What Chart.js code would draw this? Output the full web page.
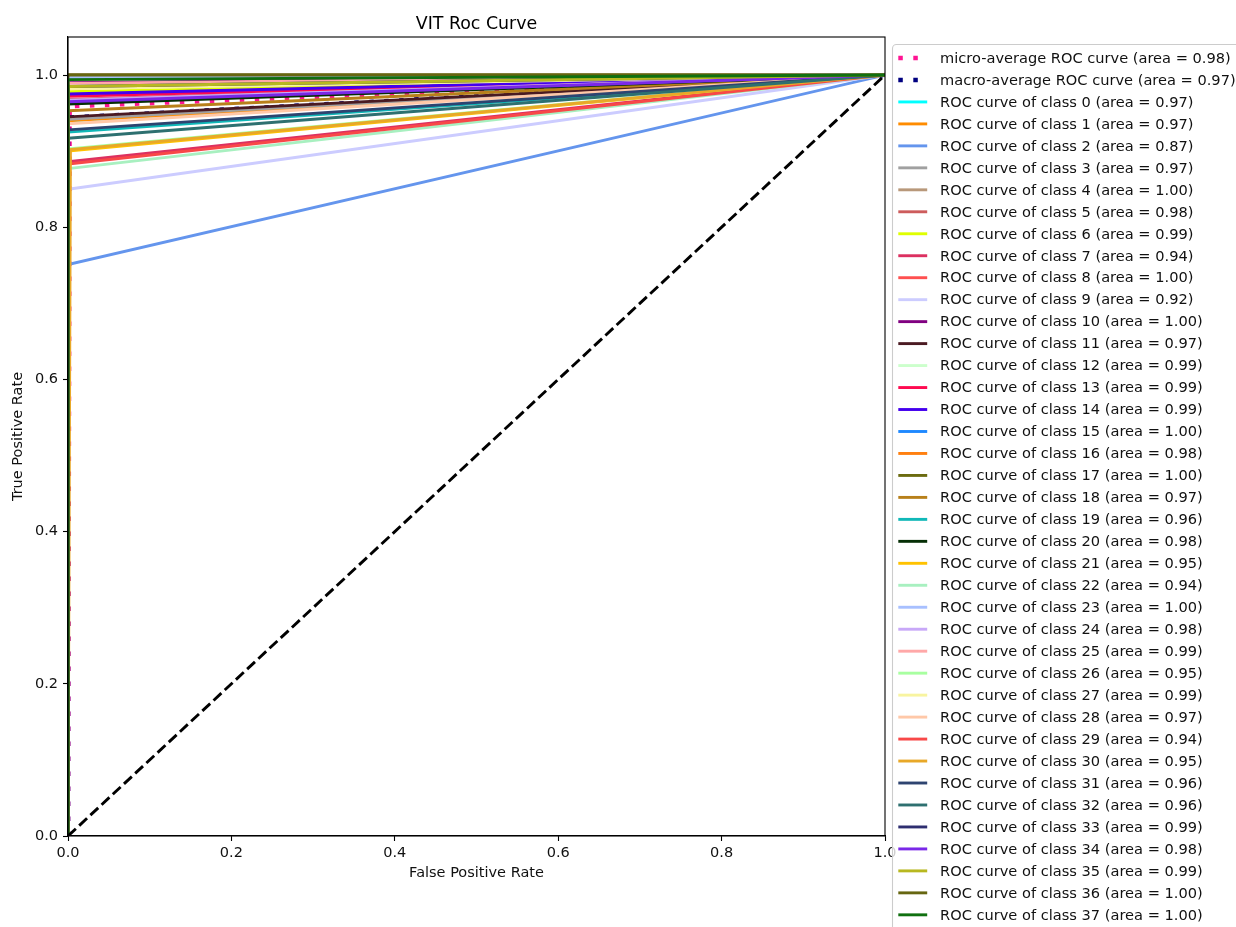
<!DOCTYPE html>
<html><head><meta charset="utf-8">
<script src="https://cdn.jsdelivr.net/npm/chart.js@4/dist/chart.umd.min.js"></script>
<style>html,body{margin:0;padding:0;background:#fff;}canvas{display:block}</style>
</head><body>
<canvas id="c" width="1236" height="927"></canvas>
<script>
// ---------- data ----------
const chartTitle = 'VIT Roc Curve';
const xAxisLabel = 'False Positive Rate';
const yAxisLabel = 'True Positive Rate';
const tickValues = [0.0, 0.2, 0.4, 0.6, 0.8, 1.0];

const classIds = [0,1,2,3,4,5,6,7,8,9,10,11,12,13,14,15,16,17,18,19,20,21,22,23,24,25,26,27,28,29,30,31,32,33,34,35,36,37];
const classAuc = [0.97,0.97,0.87,0.97,1.00,0.98,0.99,0.94,1.00,0.92,1.00,0.97,0.99,0.99,0.99,1.00,0.98,1.00,0.97,0.96,0.98,0.95,0.94,1.00,0.98,0.99,0.95,0.99,0.97,0.94,0.95,0.96,0.96,0.99,0.98,0.99,1.00,1.00];
// knee point of each ROC curve (fpr, tpr)
const classKneeFpr = [0,0,0,0,0,0,0,0,0,0,0,0,0,0,0,0,0,0,0,0,0,0,0,0,0,0,0,0,0,0,0.003,0,0,0,0,0,0,0];
const classKneeTpr = [0.940,0.940,0.751,0.942,1.000,0.968,0.978,0.886,0.995,0.850,0.990,0.945,0.985,0.972,0.975,0.997,0.966,1.000,0.953,0.925,0.962,0.900,0.877,0.997,0.967,0.989,0.903,0.982,0.936,0.883,0.902,0.928,0.917,0.985,0.965,0.985,1.000,0.994];
const classColors = ['#00FFFF','#FF8C00','#6495ED','#A0A0A0','#B8987A','#CD5C5C','#DFFF00','#DC3060','#FF5050','#CCCCFF',
  '#800080','#4A1A22','#CCFFCC','#FF0A50','#4400EE','#1E88FF','#FF8010','#6B6B10','#B8801A','#10B8B8',
  '#052E05','#FFC200','#A8F0C0','#A8C0FF','#C8A8F8','#FFA8A8','#A8FFA0','#F8F4A0','#FFC8A8','#F84848',
  '#E8A828','#2E4470','#2E7070','#2E2E70','#7A28E8','#B8B820','#666610','#107010'];

const microAuc = 0.98, microKneeFpr = 0.002, microKneeTpr = 0.959;
const macroAuc = 0.97, macroKneeFpr = 0.0, macroKneeTpr = 0.944;
const chanceX = [0, 1], chanceY = [0, 1];

// ---------- build ----------
const FONT = 'DejaVu Sans';
Chart.defaults.font.family = FONT;
Chart.defaults.color = '#000';

function curve(f, t) { return [{x:0,y:0},{x:f,y:t},{x:1,y:1}]; }

const datasets = [];
let drawIdx = 0;
datasets.push({label:`micro-average ROC curve (area = ${microAuc.toFixed(2)})`, data: curve(microKneeFpr, microKneeTpr),
  borderColor:'#FF1493', borderWidth:4.5, borderDash:[4.5,10.5], order:100-(drawIdx++)});
datasets.push({label:`macro-average ROC curve (area = ${macroAuc.toFixed(2)})`, data: curve(macroKneeFpr, macroKneeTpr),
  borderColor:'#000080', borderWidth:4.5, borderDash:[4.5,10.5], order:100-(drawIdx++)});
classIds.forEach((id, i) => {
  datasets.push({label:`ROC curve of class ${id} (area = ${classAuc[i].toFixed(2)})`, data: curve(classKneeFpr[i], classKneeTpr[i]),
    borderColor: classColors[i], borderWidth:2.9, order:100-(drawIdx++)});
});
datasets.push({label:'chance', hideInLegend:true, data: chanceX.map((x,i)=>({x, y:chanceY[i]})),
  borderColor:'#000', borderWidth:2.9, borderDash:[10.7,4.6], order:100-(drawIdx++)});
datasets.forEach(d => { d.showLine = true; d.pointRadius = 0; d.fill = false; d.tension = 0; d.clip = 0; d.borderCapStyle='butt'; });

const framePlugin = {
  id: 'frame',
  afterDatasetsDraw(chart) {
    const {ctx, chartArea: a} = chart;
    ctx.save();
    ctx.strokeStyle = '#000'; ctx.lineWidth = 1.1;
    ctx.strokeRect(a.left, a.top, a.right - a.left, a.bottom - a.top);
    ctx.restore();
  }
};

const titlePlugin = {
  id: 'mtitle',
  afterDraw(chart) {
    const {ctx, chartArea: a} = chart;
    ctx.save();
    ctx.font = `17.4px "${FONT}"`;
    ctx.fillStyle = '#000'; ctx.textAlign = 'center'; ctx.textBaseline = 'alphabetic';
    ctx.fillText(chartTitle, (a.left + a.right) / 2, a.top - 8.5);
    ctx.restore();
  }
};

const legendPlugin = {
  id: 'mlegend',
  afterDraw(chart) {
    const {ctx, chartArea: a} = chart;
    const lx = a.right + 7.5, ly = a.top + 7.5;
    const items = chart.data.datasets.filter(d => !d.hideInLegend);
    const rowH = 21.97;
    ctx.save();
    ctx.beginPath();
    ctx.roundRect(lx, ly, 400, 8 + items.length * rowH + 12, 4);
    ctx.fillStyle = 'rgba(255,255,255,0.8)'; ctx.fill();
    ctx.strokeStyle = '#cccccc'; ctx.lineWidth = 1.1; ctx.stroke();
    ctx.font = `14.6px "${FONT}"`;
    ctx.textBaseline = 'middle'; ctx.textAlign = 'left';
    items.forEach((d, i) => {
      const cy = ly + 13.5 + i * rowH;
      ctx.beginPath();
      ctx.strokeStyle = d.borderColor; ctx.lineWidth = d.borderWidth; ctx.lineCap = 'butt';
      ctx.setLineDash(d.borderDash || []);
      ctx.moveTo(lx + 5.8, cy); ctx.lineTo(lx + 34.7, cy); ctx.stroke();
      ctx.setLineDash([]);
      ctx.fillStyle = '#111';
      ctx.fillText(d.label, lx + 47.5, cy + 1);
    });
    ctx.restore();
  }
};

const tickFmt = v => Number(v).toFixed(1);

new Chart(document.getElementById('c'), {
  type: 'scatter',
  data: { datasets },
  options: {
    responsive: false, animation: false,
    layout: { padding: { top: 37, right: 351, bottom: 0, left: 0 } },
    plugins: { legend: { display: false }, tooltip: { enabled: false }, title: { display: false } },
    scales: {
      x: {
        type: 'linear', min: 0, max: 1,
        afterFit: s => { s.height = 91; },
        ticks: { stepSize: 0.2, callback: tickFmt, autoSkip: false, maxRotation: 0, padding: 4, color: '#111', font: { size: 14.5 } },
        grid: { drawOnChartArea: false, drawTicks: true, tickLength: 5, tickColor: '#000', tickWidth: 1.1 },
        border: { display: true, color: '#000', width: 1.1 },
        title: { display: true, text: xAxisLabel, color: '#111', font: { size: 14.5 }, padding: { top: 0, bottom: 45.3 } }
      },
      y: {
        type: 'linear', min: 0, max: 1.05,
        afterFit: s => { s.width = 68; },
        ticks: { stepSize: 0.2, includeBounds: false, callback: tickFmt, autoSkip: false, padding: 5, color: '#111', font: { size: 14.5 } },
        grid: { drawOnChartArea: false, drawTicks: true, tickLength: 5, tickColor: '#000', tickWidth: 1.1 },
        border: { display: true, color: '#000', width: 1.1 },
        title: { display: true, text: yAxisLabel, color: '#111', font: { size: 14.5 }, padding: { top: 9.3, bottom: 0 } }
      }
    }
  },
  plugins: [framePlugin, titlePlugin, legendPlugin]
});
</script>
</body></html>
